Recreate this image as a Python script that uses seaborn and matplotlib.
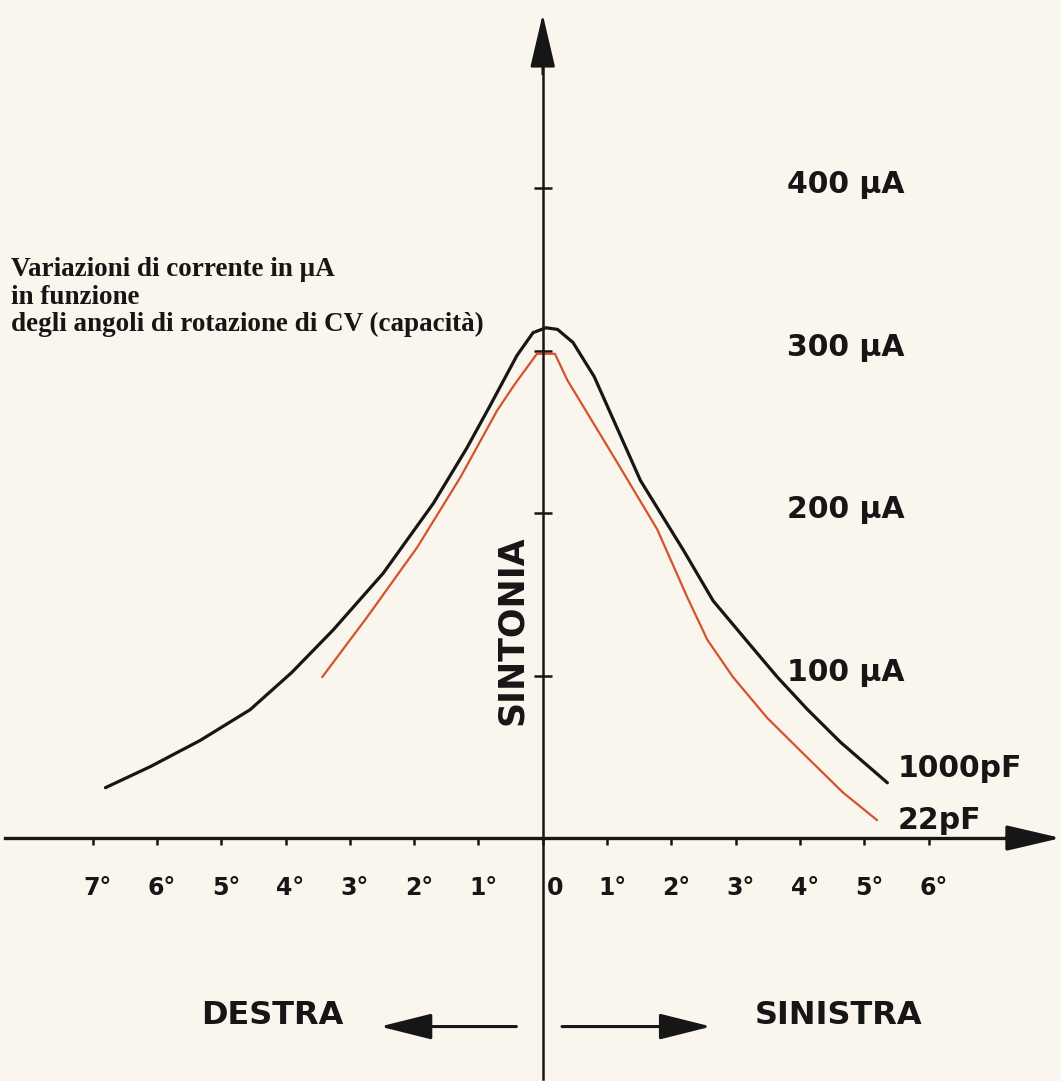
import pandas as pd
import seaborn as sns
import matplotlib.pyplot as plt
from matplotlib.transforms import ScaledTranslation

# values: rotation angle of CV in degrees
# (negative = DESTRA side) and current in uA
angle_1000pf = [-6.80, -6.10, -5.33, -4.55, -3.90, -3.26, -2.48, -1.70, -1.18,
                -0.82, -0.40, -0.15, 0.05, 0.23, 0.47, 0.80, 1.52, 2.19, 2.65,
                3.18, 3.65, 4.12, 4.63, 5.36]
current_1000pf = [31, 44, 60, 79, 102, 128, 163, 206, 240,
                  266, 297, 311, 314, 313, 305, 284, 220, 177, 146,
                  121, 99, 79, 59, 34]

angle_22pf = [-3.43, -2.73, -1.95, -1.28, -0.71, -0.44, -0.09, 0.19, 0.38,
              1.16, 1.78, 2.25, 2.56, 2.96, 3.49, 4.00, 4.67, 5.20]
current_22pf = [99, 136, 179, 222, 263, 279, 298, 298, 282,
                231, 190, 148, 122, 99, 74, 54, 28, 11]

x_ticks = [-7, -6, -5, -4, -3, -2, -1, 0, 1, 2, 3, 4, 5, 6]
x_tick_labels = ["7°", "6°", "5°", "4°", "3°", "2°", "1°", "0",
                 "1°", "2°", "3°", "4°", "5°", "6°"]
y_ticks = [100, 200, 300, 400]
y_tick_labels = ["100 µA", "200 µA", "300 µA", "400 µA"]

curve_names = ["1000pF", "22pF"]

paper = "#faf6ee"
ink = "#161616"
red = "#d4532c"


def build_frame():
    # one long table, one row per read point
    rows = []
    for a, c in zip(angle_1000pf, current_1000pf):
        rows.append({"angle": a, "current": c, "capacity": curve_names[0]})
    for a, c in zip(angle_22pf, current_22pf):
        rows.append({"angle": a, "current": c, "capacity": curve_names[1]})
    return pd.DataFrame(rows)


def main():
    sns.set_theme(style="white")
    plt.rcParams["font.family"] = ["DejaVu Sans"]

    fig = plt.figure(figsize=(10.61, 10.81), dpi=100, facecolor=paper)
    ax = fig.add_axes([0, 0, 1, 1])
    ax.set_facecolor(paper)

    df = build_frame()
    sns.lineplot(data=df, x="angle", y="current", hue="capacity",
                 size="capacity",
                 palette={curve_names[0]: ink, curve_names[1]: red},
                 sizes={curve_names[0]: 2.3, curve_names[1]: 1.6},
                 estimator=None, sort=False, legend=False, ax=ax)
    for line in ax.get_lines():
        line.set_solid_joinstyle("round")
        line.set_solid_capstyle("round")

    ax.set_xlim(-8.44, 8.06)
    ax.set_ylim(-149.5, 515.7)
    ax.set_xlabel("")
    ax.set_ylabel("")

    # axes through the origin
    ax.spines["top"].set_visible(False)
    ax.spines["right"].set_visible(False)
    ax.spines["left"].set_position(("data", 0))
    ax.spines["bottom"].set_position(("data", 0))
    ax.spines["left"].set_bounds(-148, 482)
    ax.spines["bottom"].set_bounds(-8.36, 7.4)
    ax.spines["left"].set_linewidth(1.8)
    ax.spines["bottom"].set_linewidth(2.4)
    ax.spines["left"].set_color(ink)
    ax.spines["bottom"].set_color(ink)

    ax.set_xticks(x_ticks)
    ax.set_xticklabels(x_tick_labels, fontsize=17, fontweight="bold", color=ink)
    ax.tick_params(axis="x", bottom=True, direction="out", length=5, width=1.8,
                   color=ink, pad=22)
    ax.set_yticks(y_ticks)
    ax.tick_params(axis="y", left=True, labelleft=False, direction="inout",
                   length=13, width=1.8, color=ink)
    ax.grid(False)

    # labels sit a little right of their ticks
    for lab in ax.get_xticklabels():
        dx = 12 if lab.get_text() == "0" else 5
        lab.set_transform(lab.get_transform()
                          + ScaledTranslation(dx / 100, 0, fig.dpi_scale_trans))

    # arrow heads on the axes
    ax.annotate("", xy=(0, 507), xytext=(0, 470),
                arrowprops=dict(arrowstyle="-|>,head_length=1.2,head_width=0.28",
                                mutation_scale=28, color=ink, lw=1.8,
                                shrinkA=0, shrinkB=0))
    ax.annotate("", xy=(8.06, 0), xytext=(7.2, 0),
                arrowprops=dict(arrowstyle="-|>,head_length=1.2,head_width=0.28",
                                mutation_scale=28, color=ink, lw=2.4,
                                shrinkA=0, shrinkB=0))

    # current labels on the right
    for v, txt in zip(y_ticks, y_tick_labels):
        ax.text(3.8, v + 2, txt, ha="left", va="center", fontsize=21.5,
                fontweight="bold", color=ink)

    ax.text(5.52, 43, curve_names[0], ha="left", va="center", fontsize=21.5,
            fontweight="bold", color=ink)
    ax.text(5.52, 11, curve_names[1], ha="left", va="center", fontsize=21.5,
            fontweight="bold", color=ink)

    ax.text(-0.47, 128, "SINTONIA", rotation=90, ha="center", va="center",
            fontsize=25, fontweight="bold", color=ink)

    # direction arrows below
    ax.annotate("", xy=(-2.53, -116), xytext=(-0.41, -116),
                arrowprops=dict(arrowstyle="-|>,head_length=1.6,head_width=0.4",
                                mutation_scale=20, color=ink, lw=2.2,
                                shrinkA=0, shrinkB=0))
    ax.annotate("", xy=(2.62, -116), xytext=(0.30, -116),
                arrowprops=dict(arrowstyle="-|>,head_length=1.6,head_width=0.4",
                                mutation_scale=20, color=ink, lw=2.2,
                                shrinkA=0, shrinkB=0))
    ax.text(-4.20, -109.5, "DESTRA", ha="center", va="center", fontsize=23,
            fontweight="bold", color=ink)
    ax.text(4.60, -109.5, "SINISTRA", ha="center", va="center", fontsize=23,
            fontweight="bold", color=ink)

    # caption
    ax.text(0.0104, 0.725,
            "Variazioni di corrente in µA\nin funzione\n"
            "degli angoli di rotazione di CV (capacità)",
            transform=ax.transAxes, ha="left", va="center", fontsize=19.5,
            fontweight="bold", family=["Liberation Serif", "DejaVu Serif"],
            color=ink, linespacing=1.12)

    fig.savefig("out.png", dpi=100, facecolor=paper)


if __name__ == "__main__":
    main()
